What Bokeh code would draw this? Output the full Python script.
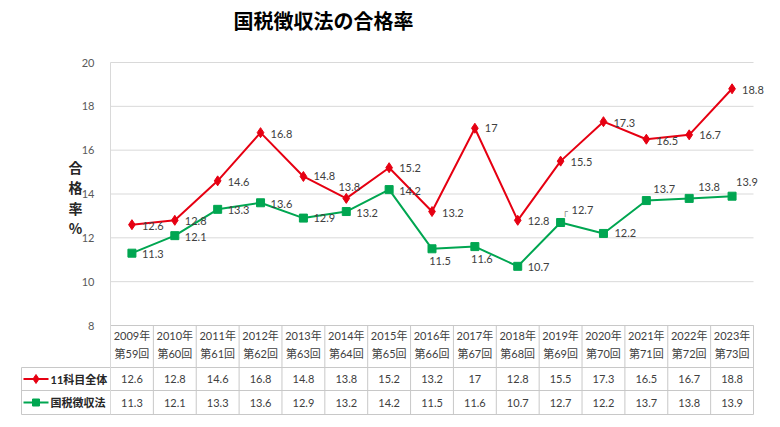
from bokeh.plotting import figure
from bokeh.models import ColumnDataSource, Range1d, FixedTicker, LinearAxis
from bokeh.core.properties import value
from bokeh.embed import file_html
from bokeh.resources import INLINE

# ---------------- data ----------------
title_text = "国税徴収法の合格率"
y_label = "合格率%"
years = ["2009年", "2010年", "2011年", "2012年", "2013年", "2014年", "2015年", "2016年",
         "2017年", "2018年", "2019年", "2020年", "2021年", "2022年", "2023年"]
rounds = ["第59回", "第60回", "第61回", "第62回", "第63回", "第64回", "第65回", "第66回",
          "第67回", "第68回", "第69回", "第70回", "第71回", "第72回", "第73回"]
series_names = ["11科目全体", "国税徴収法"]
all_subjects = [12.6, 12.8, 14.6, 16.8, 14.8, 13.8, 15.2, 13.2, 17, 12.8, 15.5, 17.3, 16.5, 16.7, 18.8]
choshu = [11.3, 12.1, 13.3, 13.6, 12.9, 13.2, 14.2, 11.5, 11.6, 10.7, 12.7, 12.2, 13.7, 13.8, 13.9]
y_ticks = [8, 10, 12, 14, 16, 18, 20]

# ---------------- label placement (styles) ----------------
red_dx = [10, 10, 10, 10, 10, 3, 10, 10, 10, 10, 10, 10, 10, 10, 10]
red_dy = [1, 1, 1, 1, 0, -11, 0, 1, 0, 1, 1, 1, 2, 0, 1]
red_align = ["left"] * 5 + ["center"] + ["left"] * 9
green_dx = [10, 10, 10, 10, 10, 10, 10, 8, 7, 10, 11, 11, 7, 9, 4]
green_dy = [1, 1, 1, 1, 0, 1, 1, 12, 12, 1, -12, 0, -12, -11, -14]
green_align = ["left"] * 7 + ["center", "center"] + ["left"] * 6

RED = "#e60012"
GREEN = "#00a651"
GRID = "#d9d9d9"
BORDER = "#c8c8c8"
TXT = "#404040"
NUM_FONT = value("Lato, Noto Sans CJK JP")

n = len(years)
xs = list(range(n))

def fmt(v):
    return "%g" % v

# ---------------- layout geometry (page pixels) ----------------
W, H = 780, 427
FR_L, FR_R, FR_T, FR_B = 20, 778, 0, 420     # frame edges
PLOT_L, PLOT_R = 110, 753                    # edges of the category area
Y_TOP_PX, Y_BOT_PX = 62, 325                 # pixel rows of y=20 and y=8
y_lo, y_hi = y_ticks[0], y_ticks[-1]
PX = (PLOT_R - PLOT_L) / n                   # px per category
KY = (y_hi - y_lo) / (Y_BOT_PX - Y_TOP_PX)   # data units per px

def px2x(px):
    return -0.5 + (px - PLOT_L) / PX

def py2y(py):
    return y_lo - (py - Y_BOT_PX) * KY

p = figure(width=W, height=H, output_backend="svg", toolbar_location=None,
           x_range=Range1d(px2x(FR_L), px2x(FR_R)), y_range=Range1d(py2y(FR_B), py2y(FR_T)),
           min_border_left=FR_L, min_border_right=W - FR_R,
           min_border_top=FR_T, min_border_bottom=H - FR_B,
           x_axis_location=None, y_axis_location=None)
p.outline_line_color = None
p.grid.visible = False
p.background_fill_color = "white"
p.border_fill_color = "white"

# y axis at the left edge of the category area
yax = LinearAxis(fixed_location=-0.5, ticker=FixedTicker(ticks=y_ticks),
                 bounds=(py2y(414), y_hi))
yax.major_tick_line_color = None
yax.minor_tick_line_color = None
yax.axis_line_color = GRID
yax.major_label_standoff = 10
yax.major_label_text_font = "Lato"
yax.major_label_text_font_size = "11px"
yax.major_label_text_color = "#595959"
p.add_layout(yax, "left")

# horizontal grid lines
p.segment(x0=[-0.5] * len(y_ticks), x1=[n - 0.5] * len(y_ticks), y0=y_ticks, y1=y_ticks,
          line_color=GRID, line_width=1)

# y axis title (stacked characters)
p.text(x=[px2x(75)] * len(y_label), y=[py2y(166 + 20.5 * i) for i in range(len(y_label))],
       text=list(y_label), text_align="center", text_baseline="middle",
       text_font=value("Noto Sans CJK JP"), text_font_style="bold", text_font_size="14px",
       text_color="#262626")

# chart title
p.text(x=[px2x(233)], y=[py2y(20)], text=[title_text], text_align="left", text_baseline="middle",
       text_font=value("Noto Sans CJK JP"), text_font_style="bold", text_font_size="20px",
       text_color="#000000")

# ---------------- series ----------------
red_src = ColumnDataSource(dict(x=xs, y=all_subjects, t=[fmt(v) for v in all_subjects],
                                dx=red_dx, dy=red_dy, al=red_align))
green_src = ColumnDataSource(dict(x=xs, y=choshu, t=[fmt(v) for v in choshu],
                                  dx=green_dx, dy=green_dy, al=green_align))

p.line("x", "y", source=red_src, line_color=RED, line_width=2)
p.scatter("x", "y", source=red_src, marker="diamond", size=10, fill_color=RED, line_color=RED)
p.line("x", "y", source=green_src, line_color=GREEN, line_width=2)
p.scatter("x", "y", source=green_src, marker="square", size=8, fill_color=GREEN, line_color=GREEN)

for src in (red_src, green_src):
    p.text("x", "y", text="t", source=src, x_offset="dx", y_offset="dy", text_align="al",
           text_baseline="middle", text_font=value("Lato"), text_font_size="11px", text_color=TXT)

# small leader for the 2019 label
p.text(x=[xs[10]], y=[choshu[10]], text=["┌"], x_offset=2, y_offset=-10,
       text_font=value("DejaVu Sans Mono"), text_font_size="9px", text_color="#808080",
       text_baseline="middle", text_align="left")

# ---------------- data table ----------------
T_TOP, T_R1, T_R2, T_BOT = 325, 367, 390, 414
x0s, y0s, x1s, y1s = [], [], [], []
for py, left in ((T_TOP, -0.5), (T_R1, px2x(21)), (T_R2, px2x(21)), (T_BOT, px2x(21))):
    x0s.append(left); x1s.append(n - 0.5); y0s.append(py2y(py)); y1s.append(py2y(py))
for i in range(1, n + 1):
    x0s.append(i - 0.5); x1s.append(i - 0.5); y0s.append(py2y(T_TOP)); y1s.append(py2y(T_BOT))
x0s.append(px2x(21)); x1s.append(px2x(21)); y0s.append(py2y(T_R1)); y1s.append(py2y(T_BOT))
p.segment(x0s, y0s, x1s, y1s, line_color=BORDER, line_width=1)

for py, labels in ((335, years), (353, rounds),
                   (378.5, [fmt(v) for v in all_subjects]), (402, [fmt(v) for v in choshu])):
    p.text(xs, [py2y(py)] * n, text=labels, text_align="center", text_baseline="middle",
           text_font=NUM_FONT, text_font_size="11px", text_color=TXT)

# legend keys in the table
for py, color, marker, size, name in ((378.5, RED, "diamond", 9, series_names[0]),
                                      (402, GREEN, "square", 7, series_names[1])):
    yy = py2y(py)
    p.line([px2x(23), px2x(48)], [yy, yy], line_color=color, line_width=2)
    p.scatter([px2x(35.5)], [yy], marker=marker, size=size, fill_color=color, line_color=color)
    p.text([px2x(50)], [yy], text=[name], text_align="left", text_baseline="middle",
           text_font=NUM_FONT, text_font_size="11px", text_color="#262626", text_font_style="bold")

open("out.html", "w").write(file_html(p, INLINE))
